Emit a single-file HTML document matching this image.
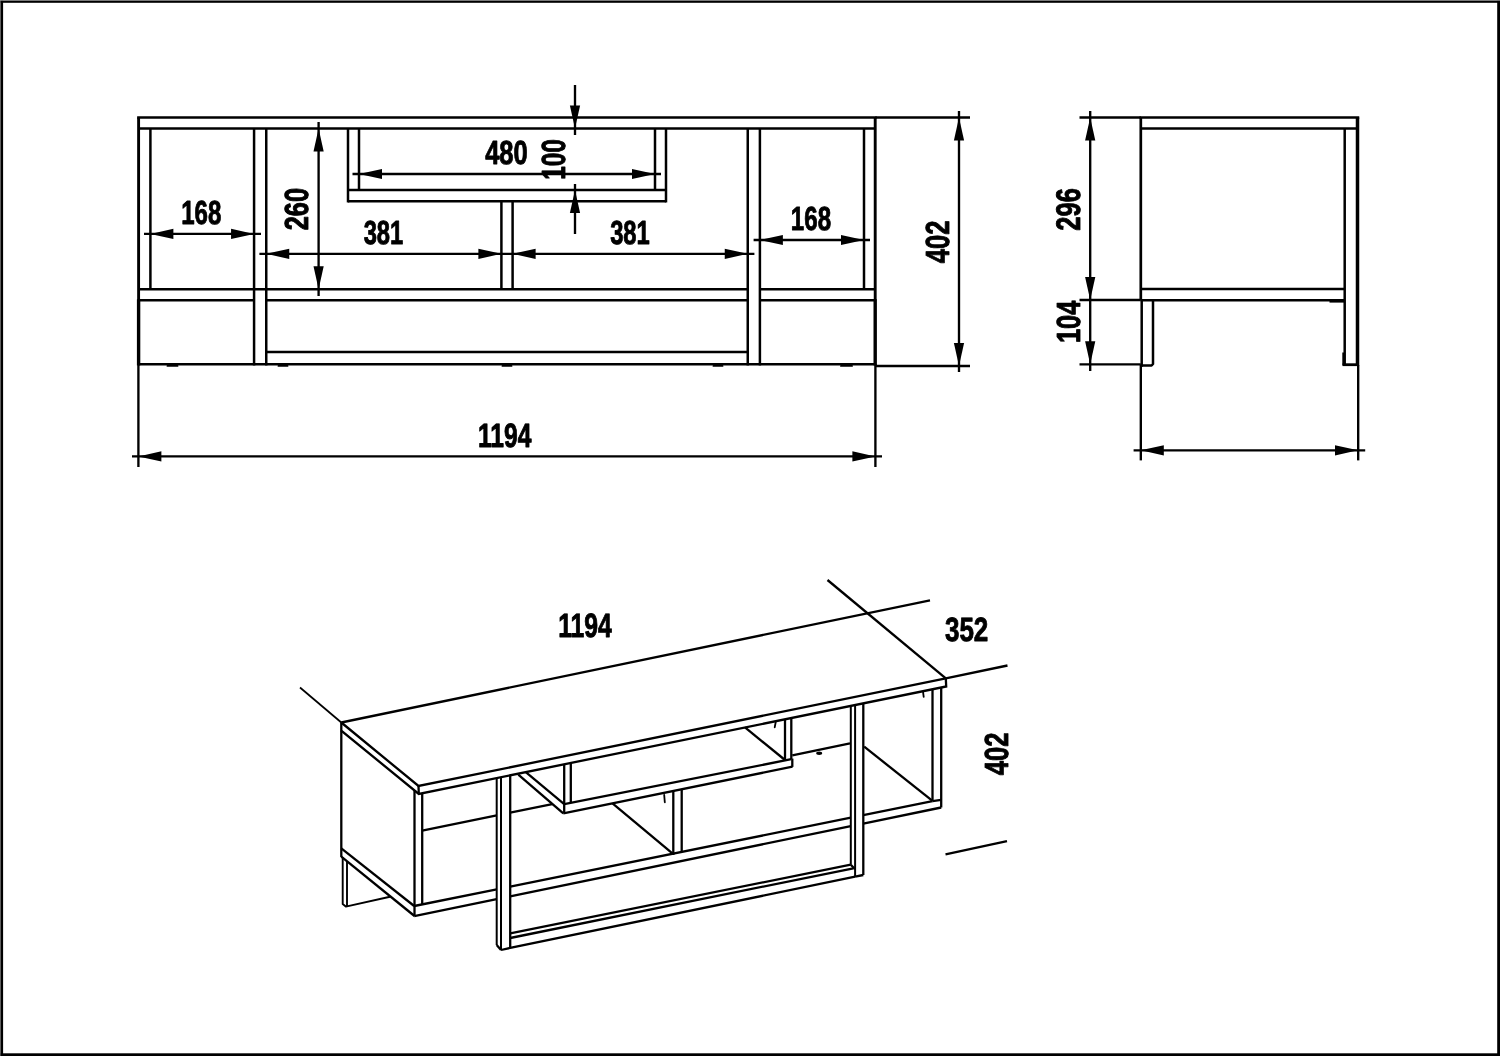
<!DOCTYPE html>
<html><head><meta charset="utf-8"><title>TV stand dimensions</title>
<style>
html,body{margin:0;padding:0;background:#fff;}
body{width:1500px;height:1056px;overflow:hidden;}
svg{display:block;filter:grayscale(1);}
svg line,svg path{stroke:#000;}
svg{text-rendering:geometricPrecision;}
svg text{font-family:"Liberation Sans",sans-serif;font-weight:bold;fill:#000;stroke:#000;stroke-width:0.9;stroke-linejoin:round;}
</style></head><body>
<svg width="1500" height="1056" viewBox="0 0 1500 1056">
<rect x="0" y="0" width="1500" height="1056" fill="#fff"/>
<rect x="0" y="0" width="1" height="1056" fill="#8a8a8a" stroke="none"/>
<rect x="0" y="0" width="1500" height="1" fill="#8a8a8a" stroke="none"/>
<rect x="0.7" y="0.9" width="2.4" height="1055.1" fill="#000" stroke="none"/>
<rect x="0.7" y="0.9" width="1499.3" height="1.9" fill="#000" stroke="none"/>
<rect x="1497.2" y="0.9" width="2.8" height="1055.1" fill="#000" stroke="none"/>
<rect x="0.7" y="1053.3" width="1499.3" height="2.7" fill="#000" stroke="none"/>
<g id="front">
<line x1="137.15" y1="117.50" x2="876.65" y2="117.50" stroke-width="2.5"/>
<line x1="138.40" y1="128.40" x2="875.40" y2="128.40" stroke-width="2.5"/>
<line x1="138.60" y1="117.50" x2="138.60" y2="300.30" stroke-width="2.9"/>
<line x1="138.60" y1="299.30" x2="138.60" y2="365.45" stroke-width="3.4"/>
<line x1="875.20" y1="117.50" x2="875.20" y2="300.30" stroke-width="2.9"/>
<line x1="875.20" y1="299.30" x2="875.20" y2="365.45" stroke-width="3.4"/>
<line x1="150.40" y1="128.40" x2="150.40" y2="289.20" stroke-width="2.5"/>
<line x1="864.00" y1="128.40" x2="864.00" y2="289.20" stroke-width="2.5"/>
<line x1="254.07" y1="128.40" x2="254.07" y2="365.45" stroke-width="2.5"/>
<line x1="266.25" y1="128.40" x2="266.25" y2="365.45" stroke-width="2.5"/>
<line x1="747.75" y1="128.40" x2="747.75" y2="365.45" stroke-width="2.5"/>
<line x1="759.90" y1="128.40" x2="759.90" y2="365.45" stroke-width="2.5"/>
<line x1="348.00" y1="128.40" x2="348.00" y2="202.45" stroke-width="2.5"/>
<line x1="359.00" y1="128.40" x2="359.00" y2="190.00" stroke-width="2.5"/>
<line x1="655.00" y1="128.40" x2="655.00" y2="190.00" stroke-width="2.5"/>
<line x1="666.00" y1="128.40" x2="666.00" y2="202.45" stroke-width="2.5"/>
<line x1="348.00" y1="190.00" x2="666.00" y2="190.00" stroke-width="2.5"/>
<line x1="348.00" y1="201.20" x2="666.00" y2="201.20" stroke-width="2.5"/>
<line x1="501.40" y1="201.20" x2="501.40" y2="289.20" stroke-width="2.5"/>
<line x1="512.60" y1="201.20" x2="512.60" y2="289.20" stroke-width="2.5"/>
<line x1="138.40" y1="289.20" x2="747.75" y2="289.20" stroke-width="2.5"/>
<line x1="759.90" y1="289.20" x2="875.40" y2="289.20" stroke-width="2.5"/>
<line x1="138.40" y1="300.30" x2="254.07" y2="300.30" stroke-width="2.5"/>
<line x1="266.25" y1="300.30" x2="747.75" y2="300.30" stroke-width="2.5"/>
<line x1="759.90" y1="300.30" x2="875.40" y2="300.30" stroke-width="2.5"/>
<line x1="138.40" y1="364.20" x2="875.40" y2="364.20" stroke-width="2.5"/>
<line x1="266.25" y1="352.00" x2="747.75" y2="352.00" stroke-width="2.5"/>
<line x1="167.50" y1="365.90" x2="177.50" y2="365.90" stroke-width="1.9" stroke-linecap="round"/>
<line x1="278.50" y1="365.90" x2="287.50" y2="365.90" stroke-width="1.9" stroke-linecap="round"/>
<line x1="502.50" y1="365.90" x2="511.50" y2="365.90" stroke-width="1.9" stroke-linecap="round"/>
<line x1="713.50" y1="365.90" x2="722.50" y2="365.90" stroke-width="1.9" stroke-linecap="round"/>
<line x1="841.00" y1="365.90" x2="852.00" y2="365.90" stroke-width="1.9" stroke-linecap="round"/>
<line x1="875.40" y1="117.50" x2="970.00" y2="117.50" stroke-width="2.35"/>
<line x1="875.40" y1="366.00" x2="970.00" y2="366.00" stroke-width="2.35"/>
<line x1="138.40" y1="364.20" x2="138.40" y2="467.00" stroke-width="2.35"/>
<line x1="875.40" y1="364.20" x2="875.40" y2="467.00" stroke-width="2.35"/>
</g>
<g id="fdims">
<line x1="144.00" y1="233.90" x2="261.00" y2="233.90" stroke-width="2.35"/>
<polygon points="150.40,233.90 173.40,228.80 173.40,239.00" fill="#000" stroke="none"/>
<polygon points="254.07,233.90 231.07,239.00 231.07,228.80" fill="#000" stroke="none"/>
<line x1="318.60" y1="122.00" x2="318.60" y2="296.00" stroke-width="2.35"/>
<polygon points="318.60,128.40 323.70,151.40 313.50,151.40" fill="#000" stroke="none"/>
<polygon points="318.60,289.20 313.50,266.20 323.70,266.20" fill="#000" stroke="none"/>
<line x1="259.40" y1="253.80" x2="507.00" y2="253.80" stroke-width="2.35"/>
<polygon points="266.25,253.80 289.25,248.70 289.25,258.90" fill="#000" stroke="none"/>
<polygon points="501.40,253.80 478.40,258.90 478.40,248.70" fill="#000" stroke="none"/>
<line x1="507.00" y1="253.80" x2="754.40" y2="253.80" stroke-width="2.35"/>
<polygon points="512.60,253.80 535.60,248.70 535.60,258.90" fill="#000" stroke="none"/>
<polygon points="747.75,253.80 724.75,258.90 724.75,248.70" fill="#000" stroke="none"/>
<line x1="352.50" y1="174.00" x2="661.00" y2="174.00" stroke-width="2.35"/>
<polygon points="359.00,174.00 382.00,168.90 382.00,179.10" fill="#000" stroke="none"/>
<polygon points="655.00,174.00 632.00,179.10 632.00,168.90" fill="#000" stroke="none"/>
<line x1="575.00" y1="85.00" x2="575.00" y2="135.00" stroke-width="2.35"/>
<polygon points="575.00,128.40 569.90,105.40 580.10,105.40" fill="#000" stroke="none"/>
<line x1="575.00" y1="184.00" x2="575.00" y2="234.00" stroke-width="2.35"/>
<polygon points="575.00,190.00 580.10,213.00 569.90,213.00" fill="#000" stroke="none"/>
<line x1="753.60" y1="240.00" x2="870.00" y2="240.00" stroke-width="2.35"/>
<polygon points="759.90,240.00 782.90,234.90 782.90,245.10" fill="#000" stroke="none"/>
<polygon points="864.00,240.00 841.00,245.10 841.00,234.90" fill="#000" stroke="none"/>
<line x1="959.00" y1="111.00" x2="959.00" y2="372.00" stroke-width="2.35"/>
<polygon points="959.00,117.50 964.10,140.50 953.90,140.50" fill="#000" stroke="none"/>
<polygon points="959.00,366.00 953.90,343.00 964.10,343.00" fill="#000" stroke="none"/>
<line x1="132.00" y1="456.40" x2="882.00" y2="456.40" stroke-width="2.35"/>
<polygon points="138.40,456.40 161.40,451.30 161.40,461.50" fill="#000" stroke="none"/>
<polygon points="875.40,456.40 852.40,461.50 852.40,451.30" fill="#000" stroke="none"/>
<text transform="translate(181.15,223.52) scale(0.7211,1)" font-size="33.38" vector-effect="non-scaling-stroke">168</text>
<text transform="translate(308.32,230.35) rotate(-90) scale(0.7606,1)" font-size="33.38" vector-effect="non-scaling-stroke">260</text>
<text transform="translate(363.65,244.02) scale(0.7122,1)" font-size="33.38" vector-effect="non-scaling-stroke">381</text>
<text transform="translate(485.15,163.52) scale(0.7660,1)" font-size="33.38" vector-effect="non-scaling-stroke">480</text>
<text transform="translate(564.52,179.85) rotate(-90) scale(0.7301,1)" font-size="33.38" vector-effect="non-scaling-stroke">100</text>
<text transform="translate(610.15,244.02) scale(0.7122,1)" font-size="33.38" vector-effect="non-scaling-stroke">381</text>
<text transform="translate(790.85,229.52) scale(0.7229,1)" font-size="33.38" vector-effect="non-scaling-stroke">168</text>
<text transform="translate(948.82,263.15) rotate(-90) scale(0.7642,1)" font-size="33.38" vector-effect="non-scaling-stroke">402</text>
<text transform="translate(477.95,446.51) scale(0.7310,1)" font-size="33.66" vector-effect="non-scaling-stroke">1194</text>
</g>
<g id="side">
<line x1="1139.55" y1="117.50" x2="1359.25" y2="117.50" stroke-width="2.5"/>
<line x1="1140.80" y1="128.40" x2="1358.00" y2="128.40" stroke-width="2.5"/>
<line x1="1140.80" y1="117.50" x2="1140.80" y2="300.20" stroke-width="2.7"/>
<line x1="1140.80" y1="364.40" x2="1140.80" y2="460.40" stroke-width="2.35"/>
<line x1="1141.70" y1="300.20" x2="1141.70" y2="366.75" stroke-width="2.5"/>
<line x1="1357.50" y1="117.50" x2="1357.50" y2="365.50" stroke-width="3.5"/>
<line x1="1358.20" y1="365.00" x2="1358.20" y2="460.40" stroke-width="2.35"/>
<line x1="1344.70" y1="128.40" x2="1344.70" y2="365.65" stroke-width="2.5"/>
<line x1="1140.80" y1="288.90" x2="1344.70" y2="288.90" stroke-width="2.5"/>
<line x1="1140.80" y1="300.20" x2="1344.70" y2="300.20" stroke-width="2.5"/>
<line x1="1329.50" y1="301.60" x2="1344.00" y2="301.60" stroke-width="2.0"/>
<path d="M1141.70 365.50 L1151.60 365.50 L1153.00 364.00 L1153.00 300.20" fill="none" stroke-width="2.5" stroke-linejoin="round"/>
<line x1="1342.60" y1="364.70" x2="1358.00" y2="364.70" stroke-width="2.8"/>
<line x1="1343.30" y1="352.50" x2="1343.30" y2="365.40" stroke-width="2.0"/>
<line x1="1079.50" y1="117.50" x2="1140.80" y2="117.50" stroke-width="2.35"/>
<line x1="1079.50" y1="300.00" x2="1140.80" y2="300.00" stroke-width="2.35"/>
<line x1="1079.50" y1="364.30" x2="1140.80" y2="364.30" stroke-width="2.35"/>
<line x1="1090.20" y1="111.00" x2="1090.20" y2="371.00" stroke-width="2.35"/>
<polygon points="1090.20,117.50 1095.30,140.50 1085.10,140.50" fill="#000" stroke="none"/>
<polygon points="1090.20,300.00 1085.10,277.00 1095.30,277.00" fill="#000" stroke="none"/>
<polygon points="1090.20,364.30 1085.10,341.30 1095.30,341.30" fill="#000" stroke="none"/>
<line x1="1133.60" y1="450.30" x2="1365.20" y2="450.30" stroke-width="2.35"/>
<polygon points="1140.80,450.30 1163.80,445.20 1163.80,455.40" fill="#000" stroke="none"/>
<polygon points="1358.00,450.30 1335.00,455.40 1335.00,445.20" fill="#000" stroke="none"/>
<text transform="translate(1080.01,230.65) rotate(-90) scale(0.7466,1)" font-size="34.08" vector-effect="non-scaling-stroke">296</text>
<text transform="translate(1079.52,343.05) rotate(-90) scale(0.7606,1)" font-size="33.38" vector-effect="non-scaling-stroke">104</text>
</g>
<g id="iso">
<path d="M341.30 722.50 L418.50 786.00 L945.80 678.40" fill="none" stroke-width="2.3" stroke-linejoin="miter"/>
<line x1="341.30" y1="722.50" x2="930.00" y2="600.33" stroke-width="2.3"/>
<line x1="827.50" y1="580.00" x2="945.80" y2="678.40" stroke-width="2.3"/>
<line x1="945.80" y1="678.40" x2="1007.50" y2="665.50" stroke-width="2.35"/>
<line x1="300.00" y1="687.50" x2="341.30" y2="722.50" stroke-width="1.7"/>
<path d="M341.30 722.50 L341.30 730.70 L418.80 793.90 L946.20 686.50 L945.80 678.40" fill="none" stroke-width="2.3" stroke-linejoin="miter"/>
<line x1="418.50" y1="786.00" x2="418.80" y2="793.90" stroke-width="2.3"/>
<line x1="341.30" y1="730.70" x2="341.30" y2="857.00" stroke-width="2.3"/>
<line x1="341.30" y1="848.30" x2="414.20" y2="906.00" stroke-width="2.3"/>
<line x1="341.30" y1="856.70" x2="414.50" y2="916.00" stroke-width="2.3"/>
<line x1="414.50" y1="790.39" x2="414.50" y2="915.80" stroke-width="2.3"/>
<line x1="422.20" y1="793.21" x2="422.20" y2="904.50" stroke-width="2.3"/>
<path d="M342.70 857.00 L342.70 904.00 L345.80 906.60 L390.00 896.80" fill="none" stroke-width="1.9" stroke-linejoin="round"/>
<line x1="347.00" y1="861.50" x2="347.00" y2="906.00" stroke-width="1.9"/>
<line x1="414.20" y1="906.00" x2="496.70" y2="889.30" stroke-width="2.3"/>
<line x1="510.20" y1="886.57" x2="850.80" y2="817.64" stroke-width="2.3"/>
<line x1="863.30" y1="815.11" x2="932.50" y2="801.10" stroke-width="2.3"/>
<line x1="414.20" y1="916.06" x2="496.70" y2="899.07" stroke-width="2.3"/>
<line x1="510.20" y1="896.29" x2="850.80" y2="826.12" stroke-width="2.3"/>
<line x1="863.30" y1="823.55" x2="941.20" y2="807.50" stroke-width="2.3"/>
<line x1="422.20" y1="830.70" x2="496.70" y2="815.46" stroke-width="2.3"/>
<line x1="510.20" y1="812.70" x2="552.20" y2="804.10" stroke-width="2.3"/>
<line x1="496.70" y1="778.04" x2="496.70" y2="945.00" stroke-width="2.0"/>
<line x1="501.00" y1="777.16" x2="501.00" y2="950.00" stroke-width="2.0"/>
<line x1="510.20" y1="775.29" x2="510.20" y2="947.50" stroke-width="2.3"/>
<line x1="496.70" y1="945.00" x2="501.00" y2="950.00" stroke-width="2.3"/>
<line x1="850.80" y1="705.93" x2="850.80" y2="864.70" stroke-width="2.0"/>
<line x1="855.10" y1="705.05" x2="855.10" y2="876.70" stroke-width="2.0"/>
<line x1="863.30" y1="703.38" x2="863.30" y2="875.00" stroke-width="2.3"/>
<line x1="855.10" y1="876.70" x2="863.30" y2="875.00" stroke-width="2.3"/>
<line x1="510.20" y1="933.30" x2="850.80" y2="864.70" stroke-width="2.3"/>
<line x1="510.20" y1="938.00" x2="853.30" y2="868.30" stroke-width="2.3"/>
<path d="M501.00 950.00 L510.20 947.90 L855.10 876.70" fill="none" stroke-width="2.3" stroke-linejoin="round"/>
<line x1="850.80" y1="864.70" x2="855.10" y2="869.30" stroke-width="2.3"/>
<line x1="518.30" y1="774.64" x2="563.30" y2="813.30" stroke-width="2.3"/>
<line x1="525.80" y1="772.11" x2="564.20" y2="804.20" stroke-width="2.3"/>
<line x1="564.20" y1="764.29" x2="564.20" y2="813.30" stroke-width="2.3"/>
<line x1="570.80" y1="762.95" x2="570.80" y2="802.89" stroke-width="2.3"/>
<line x1="564.20" y1="804.20" x2="791.30" y2="759.20" stroke-width="2.3"/>
<line x1="563.30" y1="813.30" x2="792.50" y2="766.70" stroke-width="2.3"/>
<line x1="792.30" y1="758.60" x2="792.30" y2="766.90" stroke-width="2.3"/>
<line x1="785.00" y1="719.33" x2="785.00" y2="760.45" stroke-width="2.3"/>
<line x1="791.30" y1="718.04" x2="791.30" y2="759.20" stroke-width="2.3"/>
<line x1="745.00" y1="727.47" x2="785.00" y2="760.00" stroke-width="2.3"/>
<line x1="775.70" y1="722.30" x2="774.70" y2="727.30" stroke-width="1.8" stroke-linecap="round"/>
<line x1="792.30" y1="755.30" x2="850.00" y2="743.30" stroke-width="2.3"/>
<ellipse cx="819.2" cy="753.2" rx="3" ry="1.7" fill="#000" stroke="none"/>
<line x1="612.50" y1="803.30" x2="673.30" y2="854.20" stroke-width="2.3"/>
<line x1="673.30" y1="790.94" x2="673.30" y2="855.00" stroke-width="2.3"/>
<line x1="681.70" y1="789.23" x2="681.70" y2="851.86" stroke-width="2.3"/>
<line x1="664.20" y1="795.00" x2="664.80" y2="802.30" stroke-width="1.8" stroke-linecap="round"/>
<line x1="932.50" y1="689.29" x2="932.50" y2="801.20" stroke-width="2.3"/>
<line x1="941.20" y1="687.52" x2="941.20" y2="807.50" stroke-width="2.3"/>
<line x1="923.10" y1="692.30" x2="923.70" y2="696.80" stroke-width="1.8" stroke-linecap="round"/>
<line x1="864.20" y1="746.70" x2="932.50" y2="800.80" stroke-width="2.3"/>
<line x1="932.50" y1="801.20" x2="941.20" y2="799.80" stroke-width="2.3"/>
<line x1="945.50" y1="854.40" x2="1007.00" y2="841.10" stroke-width="2.35"/>
<text transform="translate(558.15,636.51) scale(0.7351,1)" font-size="33.66" vector-effect="non-scaling-stroke">1194</text>
<text transform="translate(944.95,640.51) scale(0.7720,1)" font-size="33.66" vector-effect="non-scaling-stroke">352</text>
<text transform="translate(1007.82,775.25) rotate(-90) scale(0.7696,1)" font-size="33.38" vector-effect="non-scaling-stroke">402</text>
</g>
</svg>
</body></html>
